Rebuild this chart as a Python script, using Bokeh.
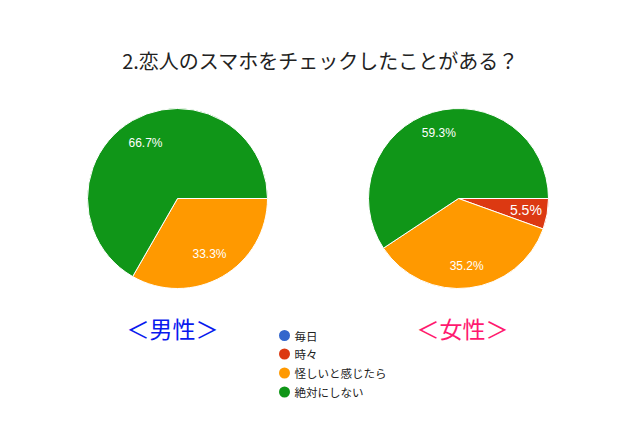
import math
from bokeh.plotting import figure
from bokeh.models import Range1d, ColumnDataSource
from bokeh.core.properties import value
from bokeh.embed import file_html
from bokeh.resources import INLINE

title = "2.恋人のスマホをチェックしたことがある？"
categories = ["毎日", "時々", "怪しいと感じたら", "絶対にしない"]
colors = ["#3366cc", "#dc3912", "#ff9900", "#109618"]
male_values = [0.0, 0.0, 33.3, 66.7]
female_values = [0.0, 5.5, 35.2, 59.3]
male_label = "＜男性＞"
female_label = "＜女性＞"

W, H = 624, 411
p = figure(width=W, height=H, output_backend="svg", toolbar_location=None,
           x_range=Range1d(0, W), y_range=Range1d(427 - H, 427),
           min_border=0, outline_line_color=None)
p.axis.visible = False
p.grid.visible = False
p.background_fill_color = "white"
p.border_fill_color = "white"

def Y(y):
    return 427 - y

def draw_pie(cx, cy, r, vals, lab_frac, lab_sizes):
    total = sum(vals)
    starts, ends, cols = [], [], []
    lx, ly, lt, ls = [], [], [], []
    cum = 0.0
    for i, v in enumerate(vals):
        if v <= 0:
            continue
        a0 = cum / total * 2 * math.pi
        cum += v
        a1 = cum / total * 2 * math.pi
        # clockwise from 3 o'clock
        starts.append(-a1)
        ends.append(-a0)
        cols.append(colors[i])
        mid = -(a0 + a1) / 2
        lx.append(cx + lab_frac * r * math.cos(mid))
        ly.append(Y(cy) + lab_frac * r * math.sin(mid))
        lt.append(f"{v:.1f}%")
        ls.append(lab_sizes.get(i, "12px"))
    src = ColumnDataSource(dict(x=[cx] * len(starts), y=[Y(cy)] * len(starts),
                                s=starts, e=ends, c=cols))
    p.wedge(x="x", y="y", radius=r, start_angle="s", end_angle="e", fill_color="c",
            line_color="white", line_width=1, source=src)
    tsrc = ColumnDataSource(dict(x=lx, y=ly, t=lt, fs=ls))
    p.text(x="x", y="y", text="t", text_font_size="fs", text_color="white",
           text_align="center", text_baseline="middle",
           text_font=value("Liberation Sans"), source=tsrc)

draw_pie(177, 198, 90, male_values, 0.71, {})
draw_pie(458, 198, 90, female_values, 0.76, {1: "14px"})

p.text(x=[320], y=[Y(60)], text=[title], text_font=value("Noto Sans CJK JP"),
       text_font_size="20px", text_color="#222222", text_align="center",
       text_baseline="middle")
p.text(x=[172], y=[Y(327)], text=[male_label], text_font=value("Noto Sans CJK JP"),
       text_font_size="23px", text_color="#0a1aee", text_align="center",
       text_baseline="middle")
p.text(x=[462], y=[Y(327)], text=[female_label], text_font=value("Noto Sans CJK JP"),
       text_font_size="23px", text_color="#ff1a70", text_align="center",
       text_baseline="middle")

ly0 = [335, 353.5, 372.5, 391.5]
p.scatter(x=[284] * 4, y=[Y(v) for v in ly0], size=11, fill_color=colors, line_color=None)
p.text(x=[294] * 4, y=[Y(v) for v in ly0], text=categories, text_font=value("Noto Sans CJK JP"),
       text_font_size="11.5px", text_color="#222222", text_align="left", text_baseline="middle")

open("out.html", "w").write(file_html(p, INLINE))
